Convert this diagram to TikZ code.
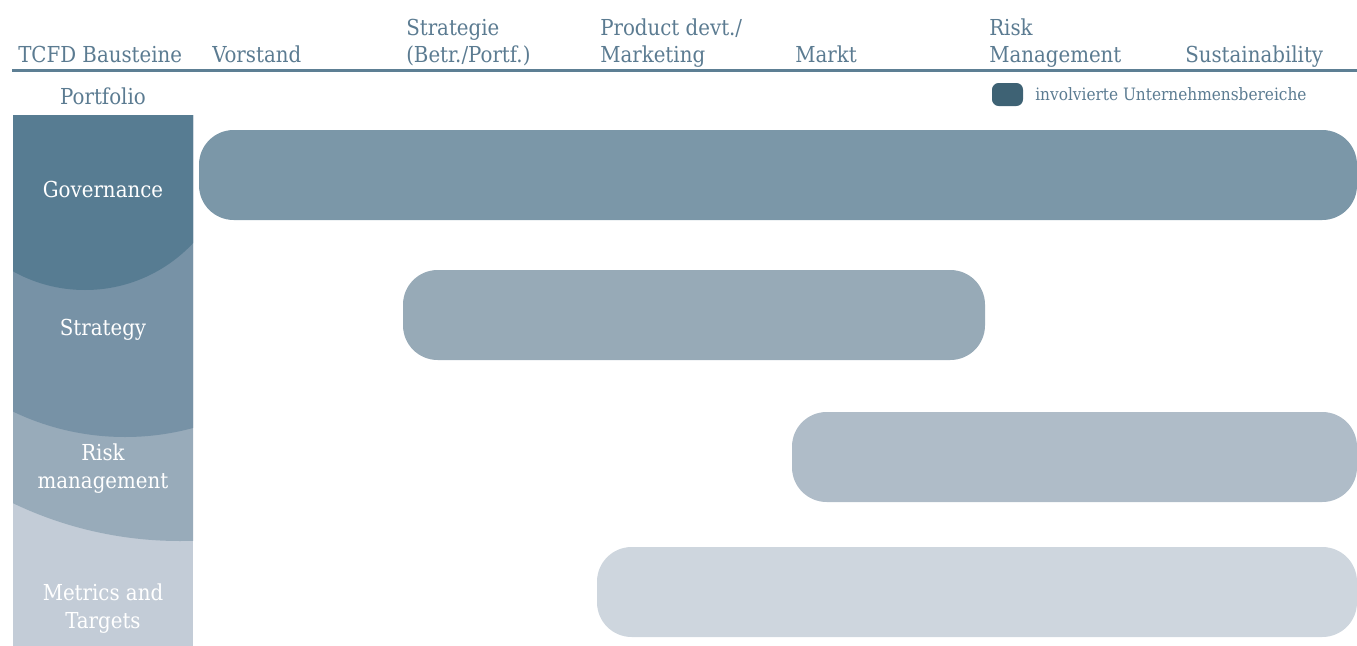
\documentclass[tikz,border=0pt]{standalone}
\usepackage{fontspec}
\setmainfont{DejaVu Serif Condensed}
\usepackage{xcolor}

\definecolor{headblue}{HTML}{5B7B91}
\definecolor{ruleblue}{HTML}{5D7F94}
\definecolor{govcol}{HTML}{577C92}
\definecolor{stratcol}{HTML}{7792A6}
\definecolor{riskcol}{HTML}{98ABBA}
\definecolor{metrcol}{HTML}{C3CCD7}
\definecolor{govbar}{HTML}{7B97A8}
\definecolor{stratbar}{HTML}{97AAB7}
\definecolor{riskbar}{HTML}{AFBCC8}
\definecolor{metrbar}{HTML}{CED6DE}
\definecolor{swatchcol}{HTML}{3E6274}

\tikzset{
  head/.style={anchor=base west, align=left, inner sep=0pt, text=headblue,
    font=\fontsize{16.5}{20.25}\selectfont},
  pillar/.style={align=center, inner sep=0pt, text=white,
    font=\fontsize{16.5}{21}\selectfont},
  bar/.style={rounded corners=26pt},
}

\begin{document}
\begin{tikzpicture}[x=0.75pt, y=-0.75pt]
\useasboundingbox (0,0) rectangle (1357,646);

% column heads (base = last line)
\node[head] (tcfd) at (18,62) {TCFD Bausteine};
\node[head] (vorstand) at (212,62) {Vorstand};
\node[head] (strategie) at (406,62) {Strategie\\(Betr./Portf.)};
\node[head] (product) at (600,62) {Product devt./\\Marketing};
\node[head] (markt) at (795,62) {Markt};
\node[head] (riskmgmt) at (989,62) {Risk\\Management};
\node[head] (sustain) at (1185,62) {Sustainability};
\draw[ruleblue, line width=2.25pt] (12,70) -- (1357,70);

\node[head, anchor=base] (portfolio) at (103,104) {Portfolio};

% legend
\fill[swatchcol, rounded corners=5pt] (992,83) rectangle (1023,106);
\node[anchor=west, inner sep=0pt, text=headblue, font=\fontsize{12.8}{15}\selectfont]
  (legend) at (1035,94) {involvierte Unternehmensbereiche};

% TCFD pillar, layered arcs
\begin{scope}
  \clip (13,115) rectangle (193,646);
  \fill[metrcol] (13,115) rectangle (193,646);
  \fill[riskcol] (180,154) circle[radius=387];
  \fill[stratcol] (125,178) circle[radius=259];
  \fill[govcol] (85,142) circle[radius=148];
\end{scope}
\node[pillar] (gov) at (103,189) {Governance};
\node[pillar] (strat) at (103,330) {Strategy};
\node[pillar] (risk) at (103,469) {Risk\\management};
\node[pillar] (metr) at (103,609) {Metrics and\\Targets};

% involved units
\fill[govbar, bar] (199,130) rectangle (1357,220);
\fill[stratbar, bar] (403,270) rectangle (985,360);
\fill[riskbar, bar] (792,412) rectangle (1357,502);
\fill[metrbar, bar] (597,547) rectangle (1357,637);
\end{tikzpicture}
\end{document}
